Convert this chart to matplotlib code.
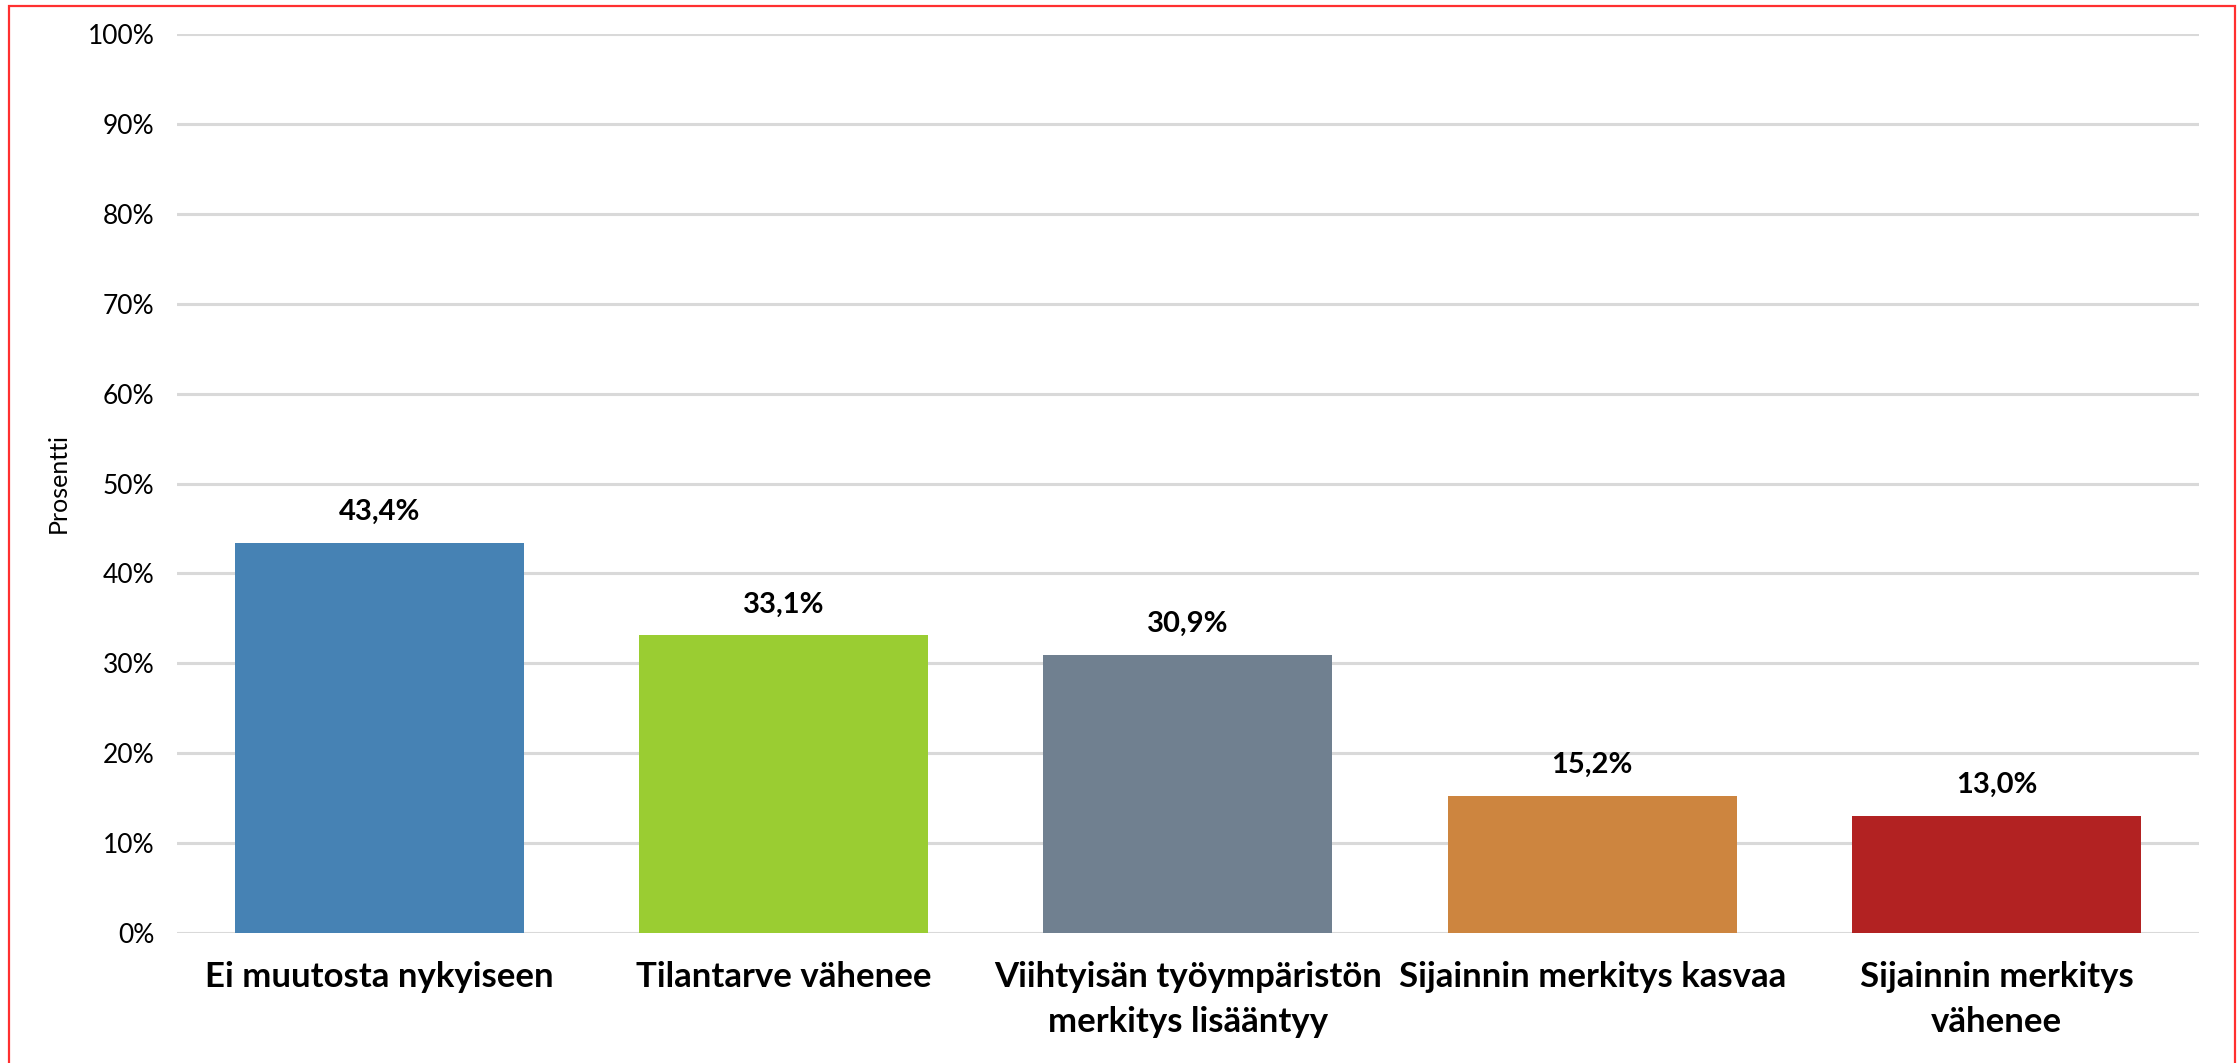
import matplotlib.pyplot as plt
from matplotlib.patches import Rectangle
from matplotlib.ticker import PercentFormatter

categories = ["Ei muutosta nykyiseen", "Tilantarve vähenee",
              "Viihtyisän työympäristön\nmerkitys lisääntyy",
              "Sijainnin merkitys kasvaa", "Sijainnin merkitys\nvähenee"]
values = [43.4, 33.1, 30.9, 15.2, 13.0]
value_labels = ["43,4%", "33,1%", "30,9%", "15,2%", "13,0%"]
colors = ["#4682B4", "#9ACD32", "#708090", "#CD853F", "#B22222"]
yticks = list(range(0, 101, 10))

fonts = ['Liberation Sans Narrow', 'DejaVu Sans Condensed', 'Lato', 'DejaVu Sans']
plt.rcParams['font.family'] = fonts

fig = plt.figure(figsize=(22.39, 10.63), dpi=100)
ax = fig.add_axes([0.079, 0.1223, 0.903, 0.8457])

x = range(len(categories))
ax.bar(x, values, width=0.715, color=colors, zorder=3)
for xi, v, lab in zip(x, values, value_labels):
    ax.annotate(lab, (xi, v), xytext=(0, 13), textcoords='offset points',
                ha='center', va='bottom', fontsize=21, fontweight='bold')

ax.set_xlim(-0.5, len(categories) - 0.5)
ax.set_ylim(0, 100)
ax.set_yticks(yticks)
ax.yaxis.set_major_formatter(PercentFormatter(decimals=0))
ax.grid(axis='y', color='#D9D9D9', lw=2.2, zorder=0)
ax.set_xticks(list(x))
ax.set_xticklabels(categories, fontsize=25, fontweight='bold', linespacing=1.5)
ax.tick_params(axis='x', length=0, pad=20)
ax.tick_params(axis='y', length=0, pad=16, labelsize=19)
for s in ax.spines.values():
    s.set_visible(False)
ax.set_ylabel('Prosentti', fontsize=18, labelpad=13)

fig.patches.append(Rectangle((9 / 2239, -0.1), 2226 / 2239, 1.1 - 6 / 1063,
                             transform=fig.transFigure, fill=False,
                             edgecolor='#FF3030', lw=1.6))

plt.savefig('out.png', dpi=100)
plt.close()
